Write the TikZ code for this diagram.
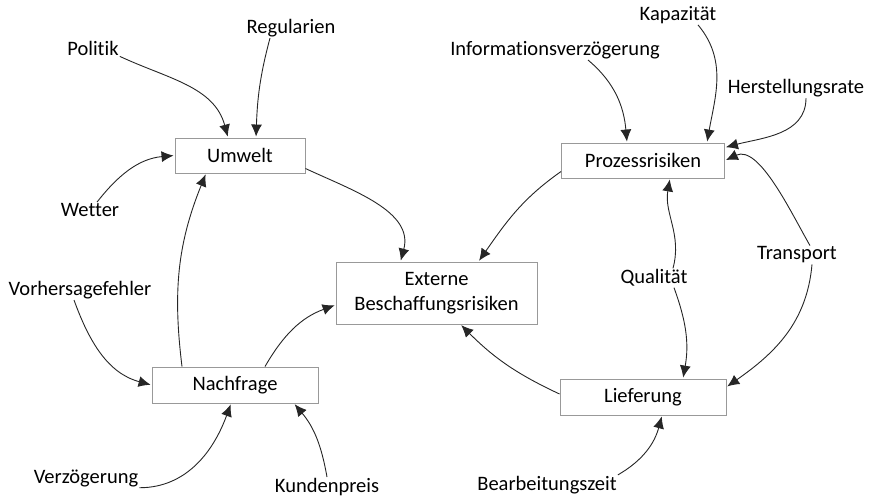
\documentclass[tikz,border=0pt]{standalone}
\usepackage{fontspec}
\setmainfont[Ligatures=NoCommon]{Carlito}
\usetikzlibrary{arrows.meta}

\begin{document}
\begin{tikzpicture}[
  x=1pt, y=1pt,
  font=\fontsize{20.5}{25}\selectfont,
  box/.style={draw=black!40, line width=0.9pt, align=center, minimum height=35pt, inner sep=2pt, fill=white},
  lbl/.style={inner sep=1pt},
  arrow/.style={-{Latex[length=12pt, width=11pt]}, line width=0.9pt, draw=black!85, shorten >=1pt}
]
\useasboundingbox (0,0) rectangle (878,498);

% boxes
\node[box, minimum width=130pt] (umw) at (240,342.5) {Umwelt};
\node[box, minimum width=163pt] (proz) at (643,337.5) {Prozessrisiken};
\node[box, minimum width=166pt, minimum height=36pt] (nach) at (235,113) {Nachfrage};
\node[box, minimum width=166pt, minimum height=36pt] (lief) at (643,101) {Lieferung};
\node[box, minimum width=201pt, minimum height=62pt] (ext) at (436.5,205)
  {Externe\\Beschaffungsrisiken};

% influences
\node[lbl] (pol) at (93,450) {Politik};
\node[lbl] (reg) at (291,470) {Regularien};
\node[lbl] (wet) at (90,288) {Wetter};
\node[lbl] (vorh) at (80,208) {Vorhersagefehler};
\node[lbl] (verz) at (86,20) {Verzögerung};
\node[lbl] (kund) at (327,11) {Kundenpreis};
\node[lbl] (info) at (555,448) {Informationsverzögerung};
\node[lbl] (kap) at (678,483) {Kapazität};
\node[lbl] (herst) at (796,410) {Herstellungsrate};
\node[lbl] (qual) at (654,220) {Qualität};
\node[lbl] (trans) at (797,243) {Transport};
\node[lbl] (bearb) at (547,13) {Bearbeitungszeit};

% arrows into Umwelt
\draw[arrow] (pol.south east) to[out=-25, in=105] ([xshift=-12pt]umw.north);
\draw[arrow] ([xshift=-21pt]reg.south) to[out=-105, in=88] ([xshift=16pt]umw.north);
\draw[arrow] ([xshift=7pt]wet.north) to[out=52, in=185] (umw.west);
\draw[arrow] ([xshift=-53pt]nach.north) to[out=97, in=-112] ([xshift=-34pt]umw.south);

% arrows into Externe Beschaffungsrisiken
\draw[arrow] ([yshift=-13pt]umw.east) to[out=-25, in=75] ([xshift=-36pt]ext.north);
\draw[arrow] ([xshift=30pt]nach.north) to[out=60, in=200] ([yshift=-12pt]ext.west);
\draw[arrow] ([yshift=-11pt]proz.west) to[out=215, in=55] ([xshift=42pt]ext.north);
\draw[arrow] ([yshift=3pt]lief.west) to[out=155, in=-45] ([xshift=24pt]ext.south);

% arrows into Prozessrisiken
\draw[arrow] ([xshift=33pt]info.south) to[out=-40, in=95] ([xshift=-16pt]proz.north);
\draw[arrow] ([xshift=20pt]kap.south) to[out=-50, in=80] ([xshift=64pt]proz.north);
\draw[arrow] ([xshift=10pt]herst.south) to[out=-90, in=15] ([yshift=13pt]proz.east);
\draw[arrow] ([xshift=19pt]qual.north) to[out=75, in=-100] ([xshift=27pt]proz.south);
\draw[arrow] ([xshift=13pt]trans.north) to[out=120, in=25, looseness=0.8] (proz.east);

% arrows into Lieferung
\draw[arrow] ([xshift=20pt]qual.south) to[out=-70, in=80] ([xshift=40pt]lief.north);
\draw[arrow] ([xshift=15pt]trans.south) to[out=-95, in=35] ([yshift=10pt]lief.east);
\draw[arrow] (bearb.north east) to[out=30, in=-105] ([xshift=19pt]lief.south);

% arrows into Nachfrage
\draw[arrow] ([xshift=-6pt]vorh.south) to[out=-70, in=165] (nach.west);
\draw[arrow] (verz.south east) to[out=0, in=-110] ([xshift=-4pt]nach.south);
\draw[arrow] (kund.north) to[out=100, in=-50] ([xshift=59pt]nach.south);

\end{tikzpicture}
\end{document}
